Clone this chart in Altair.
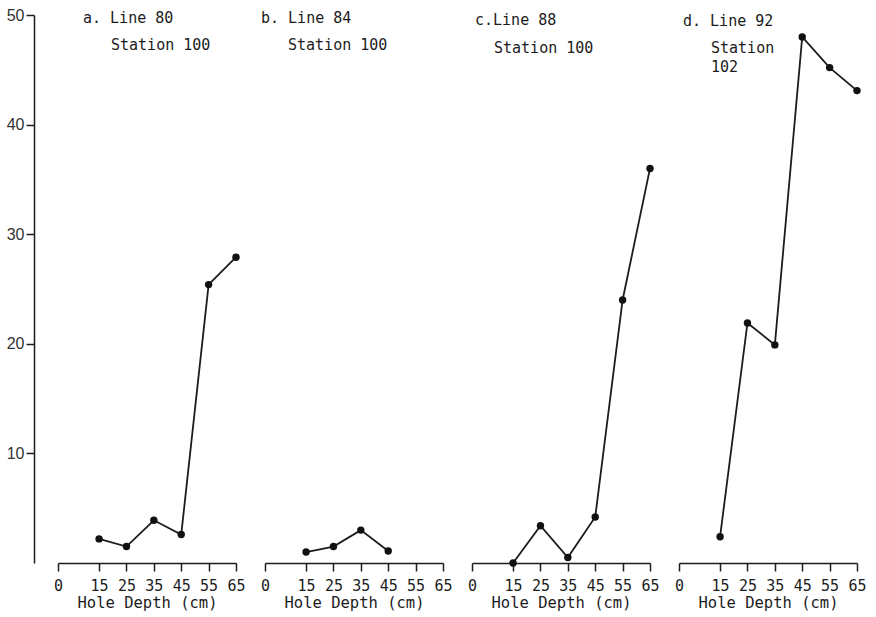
import altair as alt
import pandas as pd

# ---- data ----
depths = [15, 25, 35, 45, 55, 65]
depths_b = [15, 25, 35, 45]
line80 = [2.2, 1.5, 3.9, 2.6, 25.4, 27.9]
line84 = [1.0, 1.5, 3.0, 1.1]
line88 = [0.0, 3.4, 0.5, 4.2, 24.0, 36.0]
line92 = [2.4, 21.9, 19.9, 48.0, 45.2, 43.1]

panel_titles = ["a. Line 80", "b. Line 84", "c.Line 88", "d. Line 92"]
panel_subtitles = [["Station 100"], ["Station 100"], ["Station 100"], ["Station", "102"]]
x_ticks = [0, 15, 25, 35, 45, 55, 65]
y_ticks = [10, 20, 30, 40, 50]
x_title = "Hole Depth (cm)"

# ---- style ----
MONO = "DejaVu Sans Mono"
SANS = "Liberation Sans"
INK = "#1c1c1c"
title_dx = [25, -4, 3, 4]
title_dy = [3, 3, 5, 6]
sub_dx = [53, 23, 22, 32]
sub_dy = [30, 30, 33, 33]
PW, PH = 178, 548

series = [(depths, line80), (depths_b, line84), (depths, line88), (depths, line92)]


def panel(i):
    xs, ys = series[i]
    df = pd.DataFrame({"depth": xs, "value": ys})
    base = alt.Chart(df)
    x_enc = alt.X(
        "depth:Q",
        scale=alt.Scale(domain=[0, 65], nice=False, zero=True),
        axis=alt.Axis(
            values=x_ticks, title=x_title, grid=False, tickSize=8,
            labelFont=MONO, labelFontSize=15, labelColor=INK, labelPadding=7,
            labelOverlap=False, labelSeparation=0,
            titleFont=MONO, titleFontSize=15.5, titleFontWeight="normal",
            titleColor=INK, titlePadding=2, domainColor=INK, tickColor=INK,
            domainWidth=1.5, tickWidth=1.5, labelFlush=False,
        ),
    )
    if i == 0:
        y_axis = alt.Axis(
            values=y_ticks, title=None, grid=False, tickSize=8, offset=24,
            labelFont=SANS, labelFontSize=16, labelColor="#333", labelPadding=2,
            domainColor=INK, tickColor=INK, domainWidth=1.5, tickWidth=1.5,
            labelFlush=False, labelOverlap=False,
        )
    else:
        y_axis = None
    y_enc = alt.Y("value:Q", scale=alt.Scale(domain=[0, 50], nice=False), axis=y_axis)

    line = base.mark_line(color=INK, strokeWidth=1.8).encode(x=x_enc, y=y_enc)
    pts = base.mark_circle(color="#111", size=55, opacity=1).encode(x=x_enc, y=y_enc)

    tdf = pd.DataFrame({"t": [panel_titles[i]]})
    t1 = alt.Chart(tdf).mark_text(
        align="left", baseline="middle", font=MONO, fontSize=15, color=INK
    ).encode(x=alt.value(title_dx[i]), y=alt.value(title_dy[i]), text="t:N")
    t2 = alt.Chart(tdf).mark_text(
        align="left", baseline="middle", font=MONO, fontSize=15, color=INK, lineHeight=19
    ).encode(x=alt.value(sub_dx[i]), y=alt.value(sub_dy[i]), text=alt.value(panel_subtitles[i]))

    return alt.layer(line, pts, t1, t2).properties(width=PW, height=PH)


chart = (
    alt.hconcat(*[panel(i) for i in range(4)], spacing=29, bounds="flush")
    .properties(padding={"left": 6, "top": 7, "right": 5, "bottom": 5}, background="white")
    .configure_view(stroke=None)
    .configure_axis(labelOverlap=False)
)

chart.save("out.html", embed_options={"renderer": "svg", "actions": False})
